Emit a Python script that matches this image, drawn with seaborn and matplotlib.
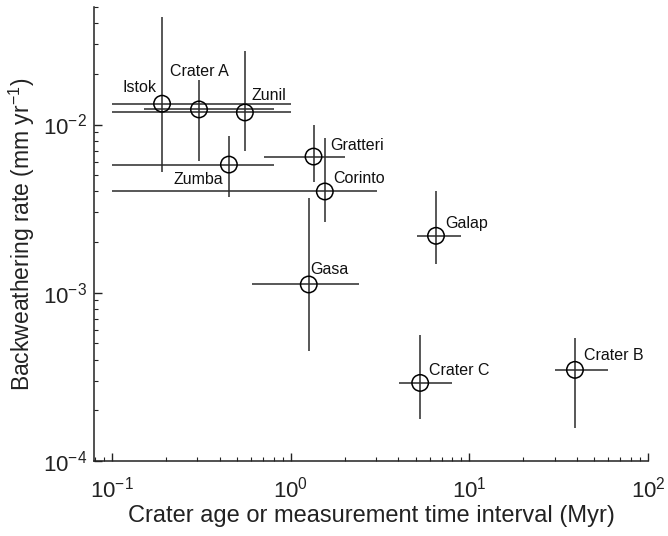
import numpy as np
import pandas as pd
import matplotlib
matplotlib.use("Agg")
import matplotlib.pyplot as plt
import seaborn as sns
from matplotlib.ticker import LogLocator, LogFormatterSciNotation, NullFormatter

sns.set_theme(style="ticks")
plt.rcParams['font.family'] = ['Liberation Sans', 'DejaVu Sans']
plt.rcParams['mathtext.fontset'] = 'custom'
plt.rcParams['mathtext.rm'] = 'Liberation Sans'
plt.rcParams['mathtext.it'] = 'Liberation Sans:italic'
plt.rcParams['mathtext.bf'] = 'Liberation Sans:bold'

# Data
names = ["Istok", "Crater A", "Zunil", "Zumba", "Gratteri", "Corinto",
         "Gasa", "Galap", "Crater C", "Crater B"]
age = [0.19, 0.306, 0.553, 0.45, 1.34, 1.55, 1.26, 6.5, 5.3, 39.0]
age_lo = [0.10, 0.151, 0.10, 0.10, 0.706, 0.10, 0.605, 5.06, 4.01, 30.3]
age_hi = [1.00, 0.80, 1.00, 0.80, 2.0, 3.02, 2.4, 9.0, 8.04, 59.8]
rate = [0.0133, 0.0123, 0.0118, 0.00578, 0.00645, 0.0040, 0.00112, 0.00218, 0.000291, 0.000348]
rate_lo = [0.00525, 0.00603, 0.0070, 0.0037, 0.00458, 0.00265, 0.00045, 0.00149, 0.000178, 0.000157]
rate_hi = [0.0433, 0.0183, 0.0272, 0.0085, 0.0099, 0.00837, 0.00367, 0.0040, 0.000562, 0.00054]
# label offsets (points) relative to each marker
lab_dx = [-16, 0, 17, -22, 31, 25, 15, 22, 28, 28]
lab_dy = [12, 27, 12, -11, 8, 9, 11, 9, 9, 10]

df = pd.DataFrame({"name": names, "age": age, "rate": rate})

fig = plt.figure(figsize=(6.68, 5.36), dpi=100)
ax = fig.add_axes([0.1407, 0.140, 0.8293, 0.847])

a = np.array(age); al = np.array(age_lo); ah = np.array(age_hi)
r = np.array(rate); rl = np.array(rate_lo); rh = np.array(rate_hi)
ax.errorbar(a, r, xerr=[a - al, ah - a], yerr=[r - rl, rh - r], fmt='none',
            ecolor='#2a2a2a', elinewidth=1.1, capsize=0, zorder=2)
sns.scatterplot(data=df, x="age", y="rate", ax=ax, marker='o', s=140,
                facecolor='none', edgecolor='black', linewidth=1.1, zorder=3)

for n, x, y, dx, dy in zip(names, age, rate, lab_dx, lab_dy):
    ax.annotate(n, (x, y), xytext=(dx, dy), textcoords='offset points',
                ha='center', va='center', fontsize=11.5, color='#111111')

ax.set_xscale('log')
ax.set_yscale('log')
ax.set_xlim(0.079, 100)
ax.set_ylim(1e-4, 0.05)

ax.xaxis.set_major_locator(LogLocator(base=10, numticks=10))
ax.xaxis.set_minor_locator(LogLocator(base=10, subs=np.arange(2, 10), numticks=20))
ax.yaxis.set_major_locator(LogLocator(base=10, numticks=10))
ax.yaxis.set_minor_locator(LogLocator(base=10, subs=np.arange(2, 10), numticks=20))
ax.xaxis.set_major_formatter(LogFormatterSciNotation())
ax.yaxis.set_major_formatter(LogFormatterSciNotation())
ax.xaxis.set_minor_formatter(NullFormatter())
ax.yaxis.set_minor_formatter(NullFormatter())

ax.tick_params(axis='both', which='major', direction='in', length=6, width=1,
               labelsize=16, colors='#222222')
ax.tick_params(axis='both', which='minor', direction='in', length=3, width=0.8,
               colors='#222222')
ax.tick_params(axis='x', which='major', pad=11)
ax.tick_params(axis='y', which='major', pad=5)

for s in ['top', 'right']:
    ax.spines[s].set_visible(False)
for s in ['left', 'bottom']:
    ax.spines[s].set_color('#222222')
    ax.spines[s].set_linewidth(1.1)

ax.set_xlabel("Crater age or measurement time interval (Myr)", fontsize=17,
              color='#222222', labelpad=2)
ax.set_ylabel("Backweathering rate (mm yr$^{-1}$)", fontsize=16.5,
              color='#222222', labelpad=4)

fig.savefig("out.png", dpi=100)
